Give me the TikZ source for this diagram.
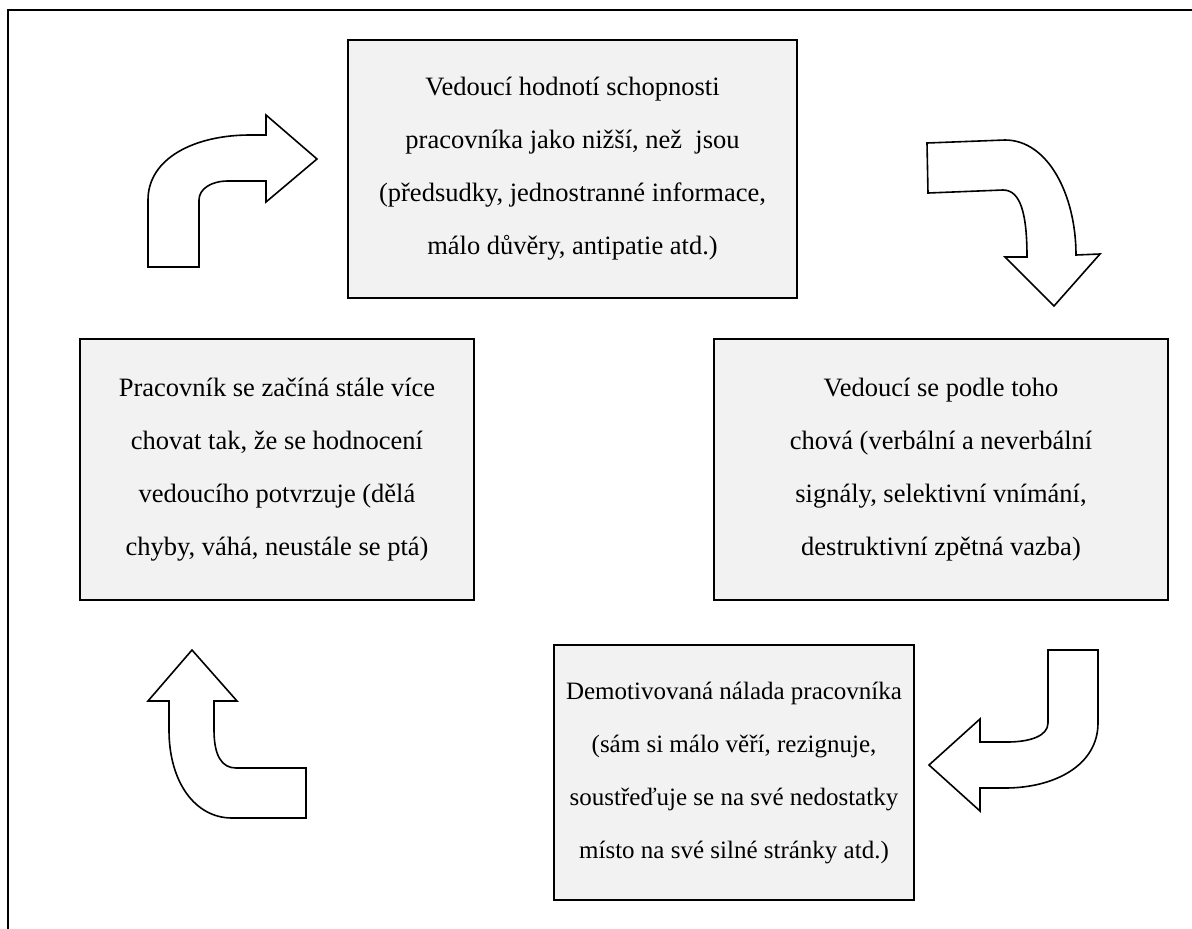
\documentclass[tikz,border=0pt]{standalone}
\usepackage{fontspec}
\setmainfont{Liberation Serif}
\definecolor{boxfill}{RGB}{242,242,242}
\tikzset{
  textbox/.style={draw=black, line width=2pt, fill=boxfill, rectangle, inner sep=0pt, align=center,
    font=\fontsize{26.5}{53}\selectfont},
  bentarrow/.style={draw=black, line width=1.6pt, fill=white, line join=miter},
  frameline/.style={draw=black, line width=2.5pt}
}
\begin{document}
\begin{tikzpicture}[x=1pt,y=-1pt]
\useasboundingbox (0,0) rectangle (1192,929);
% frame (top and left edges)
\draw[frameline] (8,929) -- (8,10) -- (1192,10);

% boxes
\node[textbox, minimum width=449pt, minimum height=258pt] (top) at (572.5,169)
  {Vedoucí hodnotí schopnosti\\pracovníka jako nižší, než~ jsou\\(předsudky, jednostranné informace,\\málo důvěry, antipatie atd.)};
\node[textbox, minimum width=394pt, minimum height=261pt] (left) at (277,469.5)
  {Pracovník se začíná stále více\\chovat tak, že se hodnocení\\vedoucího potvrzuje (dělá\\chyby, váhá, neustále se ptá)};
\node[textbox, minimum width=454pt, minimum height=261pt] (right) at (941,469.5)
  {Vedoucí se podle toho\\chová (verbální a neverbální\\signály, selektivní vnímání,\\destruktivní zpětná vazba)};
\node[textbox, minimum width=360pt, minimum height=255pt, font=\fontsize{25}{53}\selectfont] (bottom) at (734,772.5)
  {Demotivovaná nálada pracovníka\\(sám si málo věří, rezignuje,\\soustřeďuje se na své nedostatky\\místo na své silné stránky atd.)};

% arrow 1: from left box up and right to top box
\path[bentarrow] (148,267) -- (148,200) .. controls (148,158) and (195,135) .. (250,135)
  -- (266,135) -- (266,115) -- (317,159) -- (266,202) -- (266,181) -- (228,181)
  .. controls (211,181) and (199,189) .. (199,200) -- (199,267) -- cycle;

% arrow 2: from top box right and down to right box
\path[bentarrow] (927,143) -- (1005,140) .. controls (1048,140) and (1076,195) .. (1076,255)
  -- (1100,254) -- (1054,306) -- (1005,257) -- (1027,257)
  .. controls (1027,215) and (1021,190) .. (1003,190) -- (928,193) -- cycle;

% arrow 3: from right box down and left to bottom box
\path[bentarrow] (1048,650) -- (1098,650) -- (1098,723) .. controls (1098,765) and (1055,788) .. (1005,788)
  -- (980,788) -- (980,811) -- (929,765) -- (980,719) -- (980,742) -- (1007,742)
  .. controls (1030,742) and (1048,736) .. (1048,723) -- cycle;

% arrow 4: from bottom box left and up to left box
\path[bentarrow] (306,768) -- (306,818) -- (232,818) .. controls (195,818) and (169,782) .. (169,730)
  -- (169,701) -- (148,701) -- (192,650) -- (237,701) -- (214,701) -- (214,730)
  .. controls (214,756) and (222,768) .. (236,768) -- cycle;
\end{tikzpicture}
\end{document}
